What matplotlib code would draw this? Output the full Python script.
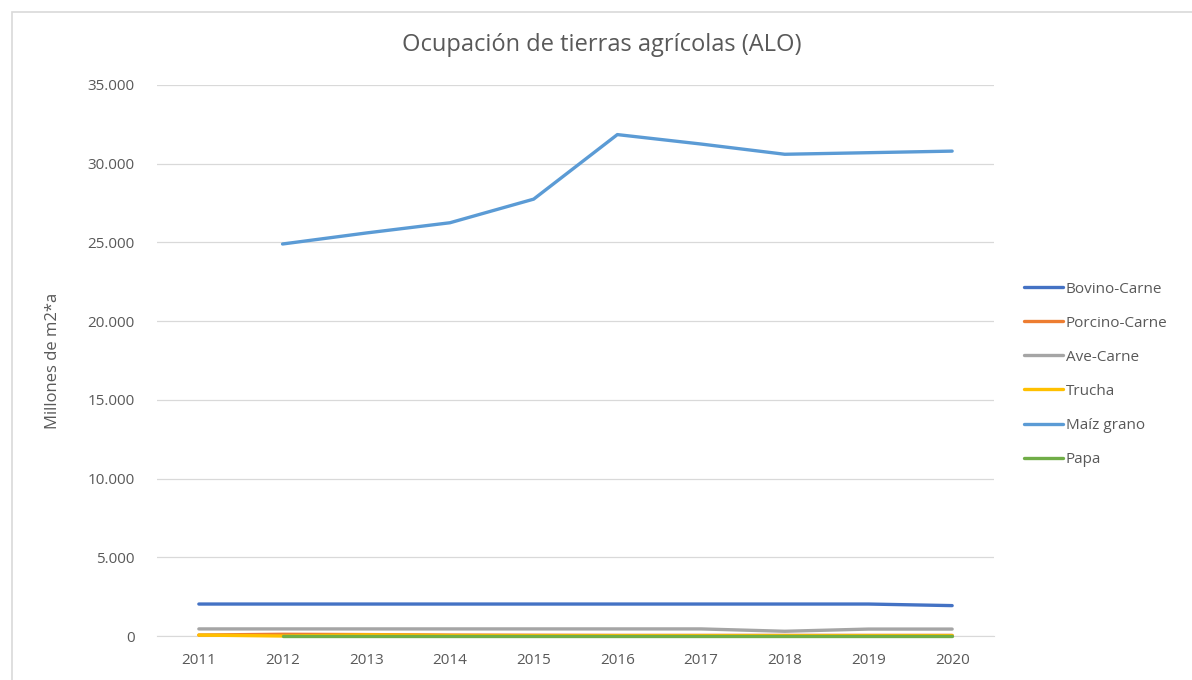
import matplotlib
matplotlib.use("Agg")
import matplotlib.pyplot as plt
from matplotlib.ticker import FuncFormatter, MultipleLocator
from matplotlib.patches import Rectangle

years = [2011, 2012, 2013, 2014, 2015, 2016, 2017, 2018, 2019, 2020]
bovino = [2030, 2030, 2030, 2030, 2030, 2030, 2030, 2030, 2030, 1930]
porcino = [60, 110, 90, 60, 50, 40, 40, 40, 40, 40]
ave = [450, 450, 450, 450, 450, 450, 450, 300, 440, 440]
trucha = [60, 0, 70, 30, 20, 20, 20, 20, 20, 20]
maiz = [None, 24900, 25600, 26250, 27750, 31850, 31250, 30600, 30700, 30800]
papa = [None, 20, 20, 20, 20, 20, 20, 20, 20, 20]

series = [
    ("Bovino-Carne", bovino, "#4472C4"),
    ("Porcino-Carne", porcino, "#ED7D31"),
    ("Ave-Carne", ave, "#A5A5A5"),
    ("Trucha", trucha, "#FFC000"),
    ("Maíz grano", maiz, "#5B9BD5"),
    ("Papa", papa, "#70AD47"),
]

plt.rcParams['font.family'] = ['Open Sans', 'DejaVu Sans']
fig = plt.figure(figsize=(11.92, 6.8), dpi=100)
fig.patches.append(Rectangle((12/1192, -0.05), 1.2, 1 - 12/680 + 0.05,
                             transform=fig.transFigure, fill=False,
                             edgecolor="#D9D9D9", linewidth=1.2))
ax = fig.add_axes([157/1192, 1 - 636/680, (994-157)/1192, (636-85)/680])

for i, (name, vals, col) in enumerate(series):
    xs = [y for y, v in zip(years, vals) if v is not None]
    vs = [v for v in vals if v is not None]
    ax.plot(xs, vs, color=col, linewidth=2.4, label=name, solid_capstyle="round",
            clip_on=False, zorder=3 + i)

ax.set_xlim(2010.5, 2020.5)
ax.set_ylim(0, 35000)
ax.set_xticks(years)
ax.set_xticklabels([str(y) for y in years])
ax.yaxis.set_major_locator(MultipleLocator(5000))
ax.yaxis.set_major_formatter(FuncFormatter(lambda v, p: f"{int(v):,}".replace(",", ".")))
ax.grid(axis="y", color="#D9D9D9", linewidth=0.9)
ax.set_axisbelow(True)
for s in ["top", "right", "left"]:
    ax.spines[s].set_visible(False)
ax.spines["bottom"].set_color("#D9D9D9")
ax.spines["bottom"].set_zorder(1)
ax.tick_params(axis="both", length=0, colors="#595959", labelsize=11)
ax.tick_params(axis="y", pad=16)
ax.tick_params(axis="x", pad=12)
ax.set_ylabel("Millones de m2*a", color="#595959", fontsize=12, labelpad=19)
fig.text(602/1192, 1 - 45/680, "Ocupación de tierras agrícolas (ALO)", ha="center", va="center",
         fontsize=17, color="#595959")

leg = ax.legend(loc="center left", bbox_to_anchor=(1.028, 0.475), frameon=False,
                fontsize=11, labelcolor="#595959", handlelength=2.6, handletextpad=0.15,
                labelspacing=1.25, borderaxespad=0)
fig.savefig("out.png", dpi=100)
